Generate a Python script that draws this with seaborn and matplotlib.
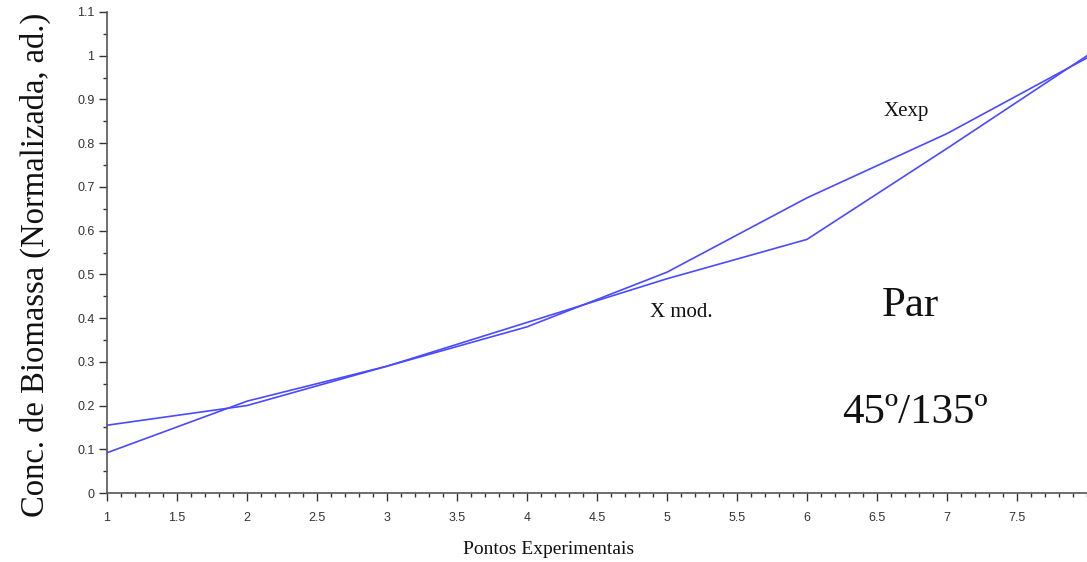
import matplotlib
matplotlib.use("Agg")
import matplotlib.pyplot as plt
from matplotlib.ticker import MultipleLocator, FuncFormatter
import seaborn as sns
import pandas as pd

pontos = [1, 2, 3, 4, 5, 6, 7, 8]
x_exp = [0.155, 0.200, 0.290, 0.380, 0.505, 0.675, 0.822, 0.995]
x_mod = [0.092, 0.210, 0.290, 0.390, 0.490, 0.580, 0.788, 1.000]
x_ticks = [1, 1.5, 2, 2.5, 3, 3.5, 4, 4.5, 5, 5.5, 6, 6.5, 7, 7.5]
y_ticks = [0, 0.1, 0.2, 0.3, 0.4, 0.5, 0.6, 0.7, 0.8, 0.9, 1, 1.1]

sns.set_style("white")
plt.rcParams['font.family'] = ['Liberation Serif', 'DejaVu Serif']

df = pd.DataFrame({"x": pontos * 2, "y": x_exp + x_mod,
                   "serie": ["Xexp"] * len(pontos) + ["Xmod"] * len(pontos)})

fig = plt.figure(figsize=(10.87, 5.62), dpi=100)
ax = fig.add_axes([107 / 1087, (562 - 493) / 562, 980 / 1087, 481 / 562])
sns.lineplot(data=df, x="x", y="y", units="serie", estimator=None,
             color="#4a4aff", linewidth=1.2, ax=ax, legend=False)

ax.set_xlim(1, 8)
ax.set_ylim(0, 1.1)
ax.set_xticks(x_ticks)
ax.set_yticks(y_ticks)
ax.xaxis.set_minor_locator(MultipleLocator(0.1))
ax.yaxis.set_minor_locator(MultipleLocator(0.05))
fmt = FuncFormatter(lambda v, p: f"{v:g}")
ax.xaxis.set_major_formatter(fmt)
ax.yaxis.set_major_formatter(fmt)
for lab in ax.get_xticklabels() + ax.get_yticklabels():
    lab.set_fontfamily("Liberation Sans")
    lab.set_fontsize(9)
    lab.set_color("#333333")
ax.tick_params(axis="x", which="both", bottom=True, direction="out")
ax.tick_params(axis="y", which="both", left=True, direction="out")
ax.tick_params(which="major", length=6, width=1, color="#333333")
ax.tick_params(which="minor", length=3, width=1, color="#333333")
ax.tick_params(axis="x", which="major", pad=8)
ax.tick_params(axis="y", which="major", pad=3)

for s in ["top", "right"]:
    ax.spines[s].set_visible(False)
for s in ["left", "bottom"]:
    ax.spines[s].set_color("#555555")
    ax.spines[s].set_linewidth(1.2)

ax.set_xlabel("Pontos Experimentais", fontsize=14, color="#111111")
ax.xaxis.set_label_coords((549 - 107) / 980, (493 - 550) / 481)
ax.xaxis.label.set_va("center")
ax.set_ylabel("Conc. de Biomassa (Normalizada, ad.)", fontsize=23.5, color="#111111")
ax.yaxis.set_label_coords((35 - 107) / 980, (493 - 265) / 481)
ax.yaxis.label.set_va("center")

ax.text(6.71, 0.872, "Xexp", fontsize=15, ha="center", va="center", color="#111111")
ax.text(5.10, 0.413, "X mod.", fontsize=15, ha="center", va="center", color="#111111")
ax.text(6.74, 0.428, "Par", fontsize=31, ha="center", va="center", color="#111111")
ax.text(6.77, 0.184, "45º/135º", fontsize=31, ha="center", va="center", color="#111111")

fig.savefig("out.png", dpi=100)
